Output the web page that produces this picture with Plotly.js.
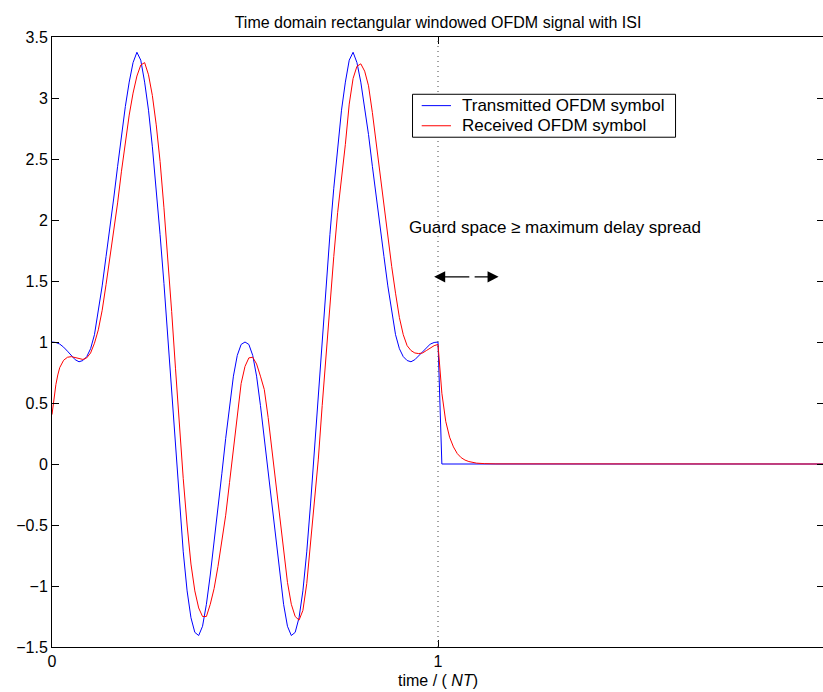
<!DOCTYPE html>
<html>
<head>
<meta charset="utf-8">
<script src="https://cdn.plot.ly/plotly-3.0.1.min.js"></script>
<style>
html,body{margin:0;padding:0;overflow:hidden;background:#fff;}
#chart{width:826px;height:692px;}
</style>
</head>
<body>
<div id="chart"></div>
<script>
// Transmitted OFDM symbol (blue)
var txTime = [0.00,0.01,0.02,0.03,0.04,0.05,0.06,0.07,0.08,0.09,
  0.10,0.11,0.12,0.13,0.14,0.15,0.16,0.17,0.18,0.19,
  0.20,0.21,0.22,0.23,0.24,0.25,0.26,0.27,0.28,0.29,
  0.30,0.31,0.32,0.33,0.34,0.35,0.36,0.37,0.38,0.39,
  0.40,0.41,0.42,0.43,0.44,0.45,0.46,0.47,0.48,0.49,
  0.50,0.51,0.52,0.53,0.54,0.55,0.56,0.57,0.58,0.59,
  0.60,0.61,0.62,0.63,0.64,0.65,0.66,0.67,0.68,0.69,
  0.70,0.71,0.72,0.73,0.74,0.75,0.76,0.77,0.78,0.79,
  0.80,0.81,0.82,0.83,0.84,0.85,0.86,0.87,0.88,0.89,
  0.90,0.91,0.92,0.93,0.94,0.95,0.96,0.97,0.98,0.99,
  1.00,1.01,2.00];
var txValue = [1.000,0.996,0.983,0.958,0.925,0.888,0.855,0.838,0.848,0.880,
  0.945,1.06,1.25,1.46,1.70,1.93,2.18,2.44,2.70,2.93,
  3.13,3.29,3.375,3.31,3.13,2.90,2.60,2.26,1.88,1.48,
  1.05,0.60,0.13,-0.32,-0.72,-1.04,-1.26,-1.38,-1.406,-1.33,
  -1.15,-0.91,-0.65,-0.37,-0.08,0.21,0.48,0.72,0.89,0.98,
  1.00,0.98,0.89,0.72,0.48,0.21,-0.08,-0.37,-0.65,-0.91,
  -1.15,-1.33,-1.406,-1.38,-1.26,-1.04,-0.72,-0.32,0.13,0.60,
  1.05,1.48,1.88,2.26,2.60,2.90,3.13,3.31,3.375,3.29,
  3.13,2.93,2.70,2.44,2.18,1.93,1.70,1.46,1.25,1.06,
  0.945,0.880,0.848,0.838,0.855,0.888,0.925,0.958,0.983,0.996,
  1.000,0.000,0.000];

// Received OFDM symbol (red)
var rxTime = [0.000,0.005,0.010,0.015,0.020,0.030,0.040,0.050,0.060,0.070,
  0.080,0.090,0.100,0.110,0.120,0.130,0.140,0.150,0.160,0.170,
  0.180,0.190,0.200,0.210,0.220,0.230,0.240,0.250,0.260,0.270,
  0.280,0.290,0.300,0.310,0.320,0.330,0.340,0.350,0.360,0.370,
  0.380,0.390,0.400,0.410,0.420,0.430,0.440,0.450,0.460,0.470,
  0.480,0.490,0.500,0.510,0.520,0.530,0.540,0.550,0.560,0.570,
  0.580,0.590,0.600,0.610,0.620,0.630,0.640,0.650,0.660,0.670,
  0.680,0.690,0.700,0.710,0.720,0.730,0.740,0.750,0.760,0.770,
  0.780,0.790,0.800,0.810,0.820,0.830,0.840,0.850,0.860,0.870,
  0.880,0.890,0.900,0.910,0.920,0.930,0.940,0.950,0.960,0.970,
  0.980,0.990,1.000,1.010,1.020,1.030,1.040,1.050,1.060,1.070,
  1.080,1.090,1.100,1.120,1.150,2.000];
var rxValue = [0.405,0.54,0.65,0.73,0.79,0.85,0.875,0.88,0.875,0.865,
  0.857,0.87,0.91,0.99,1.10,1.26,1.47,1.68,1.90,2.14,
  2.40,2.64,2.86,3.04,3.18,3.27,3.29,3.19,3.02,2.78,
  2.48,2.10,1.70,1.25,0.78,0.30,-0.12,-0.50,-0.82,-1.04,
  -1.18,-1.25,-1.25,-1.15,-1.02,-0.84,-0.64,-0.42,-0.15,0.13,
  0.42,0.66,0.80,0.87,0.875,0.82,0.72,0.61,0.38,0.11,
  -0.17,-0.44,-0.72,-0.97,-1.15,-1.25,-1.28,-1.20,-0.98,-0.66,
  -0.34,0.04,0.48,0.90,1.30,1.70,2.06,2.33,2.62,2.95,
  3.16,3.26,3.28,3.22,3.10,2.88,2.63,2.37,2.10,1.86,
  1.62,1.40,1.20,1.06,0.97,0.93,0.91,0.905,0.91,0.93,
  0.95,0.97,0.98,0.58,0.35,0.22,0.14,0.085,0.052,0.032,
  0.020,0.012,0.007,0.003,0.001,0.000];

var xTickVals = [0, 1, 2];
var xTickText = ['0', '1', '2'];
var seriesNames = ['Transmitted OFDM symbol', 'Received OFDM symbol'];
var seriesColors = ['#0000ff', '#ff0000'];
var guardText = 'Guard space \u2265 maximum delay spread';

var FONT = 'Liberation Sans, Arial, Helvetica, sans-serif';

var traces = [
  {x: txTime, y: txValue, type: 'scatter', mode: 'lines', name: seriesNames[0],
   line: {color: seriesColors[0], width: 1}, showlegend: false},
  {x: rxTime, y: rxValue, type: 'scatter', mode: 'lines', name: seriesNames[1],
   line: {color: seriesColors[1], width: 1}, showlegend: false}
];

// legend box (drawn as a boxed key in paper coordinates)
var legBox = {x0: 0.4670, x1: 0.8077, y0: 0.8357, y1: 0.9061};
var legRows = [0.8875, 0.8545];
var legLineX = [0.4789, 0.5168];
var legTextX = 0.5290;

var shapes = [
  {type: 'line', xref: 'x', yref: 'paper', x0: 1, x1: 1, y0: 0, y1: 1,
   line: {color: '#444', width: 1, dash: '1px,4px'}},
  {type: 'rect', xref: 'paper', yref: 'paper', x0: legBox.x0, x1: legBox.x1, y0: legBox.y0, y1: legBox.y1,
   fillcolor: '#fff', line: {color: '#000', width: 1}, layer: 'above'}
];
var annotations = [
  {x: 0.919, y: 1.94, xref: 'x', yref: 'y', text: guardText, showarrow: false,
   xanchor: 'left', yanchor: 'middle', font: {family: FONT, size: 17, color: '#000'}},
  {x: 0.99, y: 1.534, ax: 1.085, ay: 1.534, xref: 'x', yref: 'y', axref: 'x', ayref: 'y',
   text: '', showarrow: true, arrowhead: 2, arrowsize: 1.7, arrowwidth: 1.3, arrowcolor: '#000'},
  {x: 1.157, y: 1.534, ax: 1.091, ay: 1.534, xref: 'x', yref: 'y', axref: 'x', ayref: 'y',
   text: '', showarrow: true, arrowhead: 2, arrowsize: 1.7, arrowwidth: 1.3, arrowcolor: '#000'}
];
for (var i = 0; i < seriesNames.length; i++) {
  shapes.push({type: 'line', xref: 'paper', yref: 'paper', x0: legLineX[0], x1: legLineX[1],
    y0: legRows[i], y1: legRows[i], line: {color: seriesColors[i], width: 1}, layer: 'above'});
  annotations.push({x: legTextX, y: legRows[i], xref: 'paper', yref: 'paper', text: seriesNames[i],
    showarrow: false, xanchor: 'left', yanchor: 'middle',
    font: {family: FONT, size: 17, color: '#000'}});
}

var layout = {
  width: 826, height: 692,
  margin: {l: 52, r: 2, t: 37, b: 45, pad: 0},
  paper_bgcolor: '#fff', plot_bgcolor: '#fff',
  font: {family: FONT, size: 16, color: '#000'},
  title: {text: 'Time domain rectangular windowed OFDM signal with ISI',
          font: {family: FONT, size: 16, color: '#000'},
          x: 0.5, xref: 'paper', y: 1, yref: 'paper', yanchor: 'bottom', pad: {b: 9}},
  showlegend: false,
  xaxis: {range: [0, 2], tickvals: xTickVals, ticktext: xTickText,
          ticks: 'inside', ticklen: 7, tickcolor: '#000', mirror: 'ticks',
          showline: true, linecolor: '#000', linewidth: 1,
          showgrid: false, zeroline: false,
          tickfont: {family: FONT, size: 16, color: '#000'},
          title: {text: 'time / ( <i>NT</i>)', font: {family: FONT, size: 16, color: '#000'}, standoff: 5}},
  yaxis: {range: [-1.5, 3.5], dtick: 0.5, tick0: 0,
          ticks: 'inside', ticklen: 7, tickcolor: '#000', mirror: 'ticks',
          showline: true, linecolor: '#000', linewidth: 1,
          showgrid: false, zeroline: false,
          tickfont: {family: FONT, size: 16, color: '#000'}},
  shapes: shapes,
  annotations: annotations
};

Plotly.newPlot('chart', traces, layout, {displayModeBar: false, staticPlot: true});
</script>
</body>
</html>
